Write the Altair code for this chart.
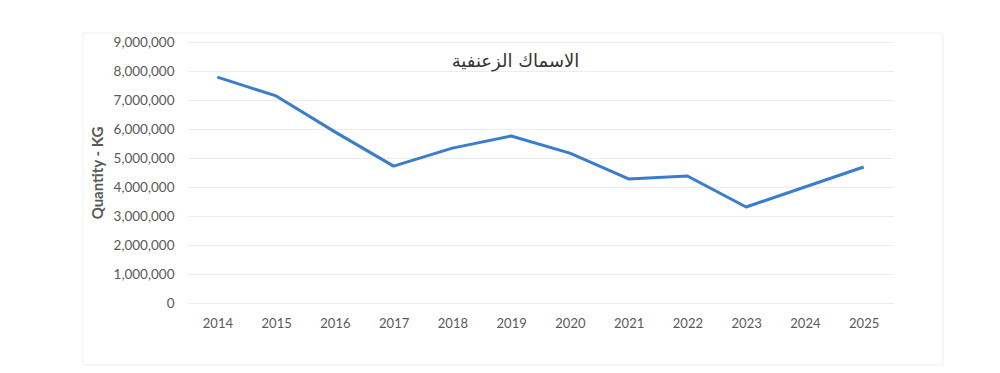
import altair as alt
import pandas as pd

years = ["2014", "2015", "2016", "2017", "2018", "2019", "2020", "2021", "2022", "2023", "2024", "2025"]
quantity = [7790000, 7140000, 5900000, 4720000, 5340000, 5760000, 5170000, 4280000, 4380000, 3310000, 4000000, 4690000]
y_ticks = [0, 1000000, 2000000, 3000000, 4000000, 5000000, 6000000, 7000000, 8000000, 9000000]
title_text = "الاسماك الزعنفية"
y_title = "Quantity - KG"

df = pd.DataFrame({"year": years, "qty": quantity})

FONT = "Lato"
GRAY = "#595959"

line = alt.Chart(df).mark_line(color="#3a7dcf", strokeWidth=3, strokeJoin="round").encode(
    x=alt.X("year:O", sort=years, scale=alt.Scale(type="point", padding=0.5),
            axis=alt.Axis(title=None, labelAngle=0, labelFont=FONT, labelFontSize=13,
                          labelColor=GRAY, domain=False, ticks=False, labelPadding=14, grid=False)),
    y=alt.Y("qty:Q", scale=alt.Scale(domain=[0, 9000000], nice=False),
            axis=alt.Axis(values=y_ticks, format=",d", title=y_title, titleFont=FONT,
                          titleFontSize=15, titleColor=GRAY, titleFontWeight="bold",
                          titlePadding=8, labelFont=FONT, labelFontSize=13.5, labelColor=GRAY,
                          domain=False, ticks=False, labelPadding=14, gridColor="#ececec",
                          gridWidth=1)),
)

border = alt.Chart(pd.DataFrame({"a": [0]})).mark_rect(
    fill=None, stroke="#f0f0f0", strokeWidth=1
).encode(x=alt.value(-105), x2=alt.value(755), y=alt.value(-9), y2=alt.value(323))

chart = alt.layer(border, line).properties(
    width=705, height=261,
    padding={"left": 180, "top": 34, "right": 80, "bottom": 70},
    autosize=alt.AutoSizeParams(type="none"),
    title=alt.TitleParams(title_text, font="DejaVu Sans", fontSize=18, color="#333333",
                          fontWeight="normal", anchor="middle", dx=-25, dy=38, offset=0),
).configure(background="white").configure_view(stroke=None)

chart.save("out.html", embed_options={"renderer": "svg", "actions": False})
